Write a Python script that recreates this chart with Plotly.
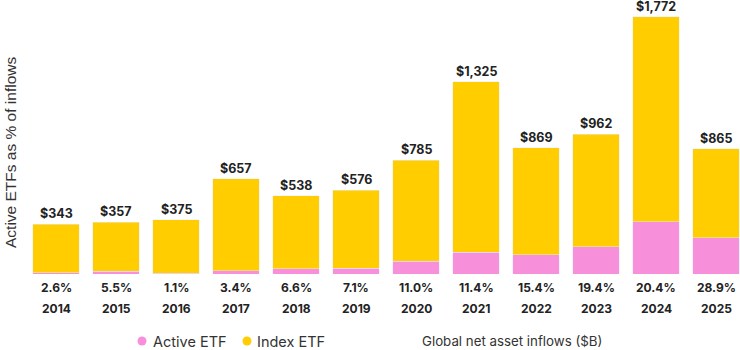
import plotly.graph_objects as go

years = ["2014", "2015", "2016", "2017", "2018", "2019", "2020", "2021", "2022", "2023", "2024", "2025"]
totals = [343, 357, 375, 657, 538, 576, 785, 1325, 869, 962, 1772, 865]
active_pct = [2.6, 5.5, 1.1, 3.4, 6.6, 7.1, 11.0, 11.4, 15.4, 19.4, 20.4, 28.9]
series_names = ["Active ETF", "Index ETF"]

active = [t * p / 100 for t, p in zip(totals, active_pct)]
index = [t - a for t, a in zip(totals, active)]

PINK = "#F78FDB"
YELLOW = "#FFCD00"
TXT = "#222222"
FONT = "Inter"

L, T, W, H = 26, 0, 714, 274


def px(xp):
    return (xp - L) / W


def py(yp):
    return (T + H - yp) / H


fig = go.Figure()
fig.add_trace(go.Bar(x=years, y=active, marker_color=PINK, name=series_names[0],
                     showlegend=False, hoverinfo="skip"))
fig.add_trace(go.Bar(x=years, y=index, marker_color=YELLOW, name=series_names[1],
                     showlegend=False, hoverinfo="skip"))

ann = []
for i, (y, t, p) in enumerate(zip(years, totals, active_pct)):
    ann.append(dict(x=i, y=t, xref="x", yref="y", text=f"<b>${t:,}</b>", showarrow=False,
                    yanchor="bottom", yshift=1, font=dict(size=12.5, color=TXT, family=FONT)))
    ann.append(dict(x=i, y=0, xref="x", yref="y", text=f"<b>{p:.1f}%</b>", showarrow=False,
                    yanchor="middle", yshift=-13, font=dict(size=12, color=TXT, family=FONT)))
    ann.append(dict(x=i, y=0, xref="x", yref="y", text=f"<b>{y}</b>", showarrow=False,
                    yanchor="middle", yshift=-34, font=dict(size=12, color=TXT, family=FONT)))

ann.append(dict(x=px(11), y=py(153), xref="paper", yref="paper",
                text="Active ETFs as % of inflows", textangle=-90, showarrow=False,
                xanchor="center", yanchor="middle",
                font=dict(size=15.5, color="#333333", family="Liberation Sans")))
ann.append(dict(x=px(512), y=py(341), xref="paper", yref="paper",
                text="Global net asset inflows ($B)", showarrow=False,
                xanchor="center", yanchor="middle",
                font=dict(size=13.3, color="#333333", family=FONT)))

# legend (round markers + labels)
shapes = []
for name, col, mx, tx in [(series_names[0], PINK, 142, 151), (series_names[1], YELLOW, 247, 255)]:
    shapes.append(dict(type="circle", xref="paper", yref="paper", xsizemode="pixel",
                       ysizemode="pixel", xanchor=px(mx), yanchor=py(341),
                       x0=-4.5, x1=4.5, y0=-4.5, y1=4.5, fillcolor=col, line=dict(width=0)))
    ann.append(dict(x=px(tx), y=py(341), xref="paper", yref="paper", text=name,
                    showarrow=False, xanchor="left", yanchor="middle",
                    font=dict(size=14.5, color="#333333", family=FONT)))

fig.update_layout(
    width=740, height=350,
    margin=dict(l=L, r=0, t=T, b=350 - T - H, autoexpand=False),
    barmode="stack",
    bargap=0.233,
    plot_bgcolor="white", paper_bgcolor="white",
    font=dict(family=FONT, color="#333333"),
    xaxis=dict(type="category", range=[-0.5, 11.4], showticklabels=False, showgrid=False,
               zeroline=False, showline=False, ticks="", fixedrange=True),
    yaxis=dict(range=[0, 1889], visible=False, showgrid=False, zeroline=False, fixedrange=True),
    annotations=ann,
    shapes=shapes,
    showlegend=False,
)

fig.write_html("out.html")
